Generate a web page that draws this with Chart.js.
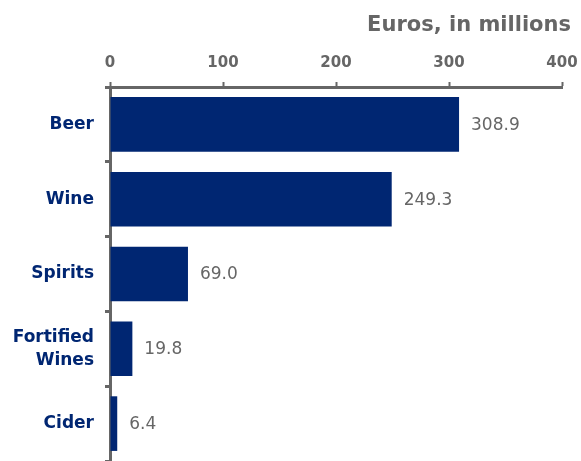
<!DOCTYPE html>
<html>
<head>
<meta charset="utf-8">
<script src="https://cdn.jsdelivr.net/npm/chart.js@4"></script>
<style>
  html, body { margin: 0; padding: 0; background: #fff; }
  #c { display: block; }
</style>
</head>
<body>
<canvas id="c" width="581" height="461"></canvas>
<script>
// Alcohol spending by drink type
const categories = ['Beer', 'Wine', 'Spirits', ['Fortified', 'Wines'], 'Cider'];
const spending = [308.9, 249.3, 69.0, 19.8, 6.4];
const xTicks = [0, 100, 200, 300, 400];
const axisTitle = 'Euros, in millions';

const NAVY = '#002672';
const GREY = '#666666';
const FONT = "'DejaVu Sans', Verdana, sans-serif";

// Writes each bar's value just past its end
const valueLabels = {
  id: 'valueLabels',
  afterDatasetsDraw(chart) {
    const ctx = chart.ctx;
    const meta = chart.getDatasetMeta(0);
    ctx.save();
    ctx.font = '17px ' + FONT;
    ctx.fillStyle = GREY;
    ctx.textAlign = 'left';
    ctx.textBaseline = 'middle';
    meta.data.forEach((bar, i) => {
      ctx.fillText(spending[i].toFixed(1), bar.x + 12, bar.y + 1);
    });
    ctx.restore();
  }
};

// Unit caption above the value axis, right aligned
const unitCaption = {
  id: 'unitCaption',
  afterDraw(chart) {
    const ctx = chart.ctx;
    ctx.save();
    ctx.font = 'bold 21px ' + FONT;
    ctx.fillStyle = GREY;
    ctx.textAlign = 'right';
    ctx.textBaseline = 'alphabetic';
    ctx.fillText(axisTitle, 571, 31);
    ctx.restore();
  }
};

new Chart(document.getElementById('c'), {
  type: 'bar',
  data: {
    labels: categories,
    datasets: [{
      data: spending,
      backgroundColor: NAVY,
      borderWidth: 0,
      barPercentage: 0.73,
      categoryPercentage: 1.0
    }]
  },
  options: {
    indexAxis: 'y',
    responsive: false,
    animation: false,
    layout: { padding: { left: 0, right: 19, top: 0, bottom: -2 } },
    plugins: {
      legend: { display: false },
      tooltip: { enabled: false },
      title: { display: false }
    },
    scales: {
      x: {
        position: 'top',
        min: 0,
        max: 400,
        afterBuildTicks(scale) {
          scale.ticks = xTicks.map(v => ({ value: v }));
        },
        afterFit(scale) {
          scale.height = 87;
          scale.paddingLeft = 0;
          scale.paddingRight = 0;
        },
        grid: {
          drawOnChartArea: false,
          drawTicks: true,
          tickLength: 5,
          tickWidth: 2,
          tickColor: GREY
        },
        border: { display: true, color: GREY, width: 3 },
        ticks: {
          color: GREY,
          font: { family: FONT, size: 15, weight: 'bold' },
          padding: 10
        }
      },
      y: {
        afterFit(scale) {
          scale.width = 110;
          scale.paddingTop = 0;
          scale.paddingBottom = 0;
        },
        grid: {
          offset: true,
          drawOnChartArea: false,
          drawTicks: true,
          tickLength: 5,
          tickWidth: 3,
          tickColor: GREY
        },
        border: { display: true, color: GREY, width: 3 },
        ticks: {
          color: NAVY,
          font: { family: FONT, size: 17, weight: 'bold', lineHeight: 1.35 },
          padding: 11
        }
      }
    }
  },
  plugins: [valueLabels, unitCaption]
});
</script>
</body>
</html>
